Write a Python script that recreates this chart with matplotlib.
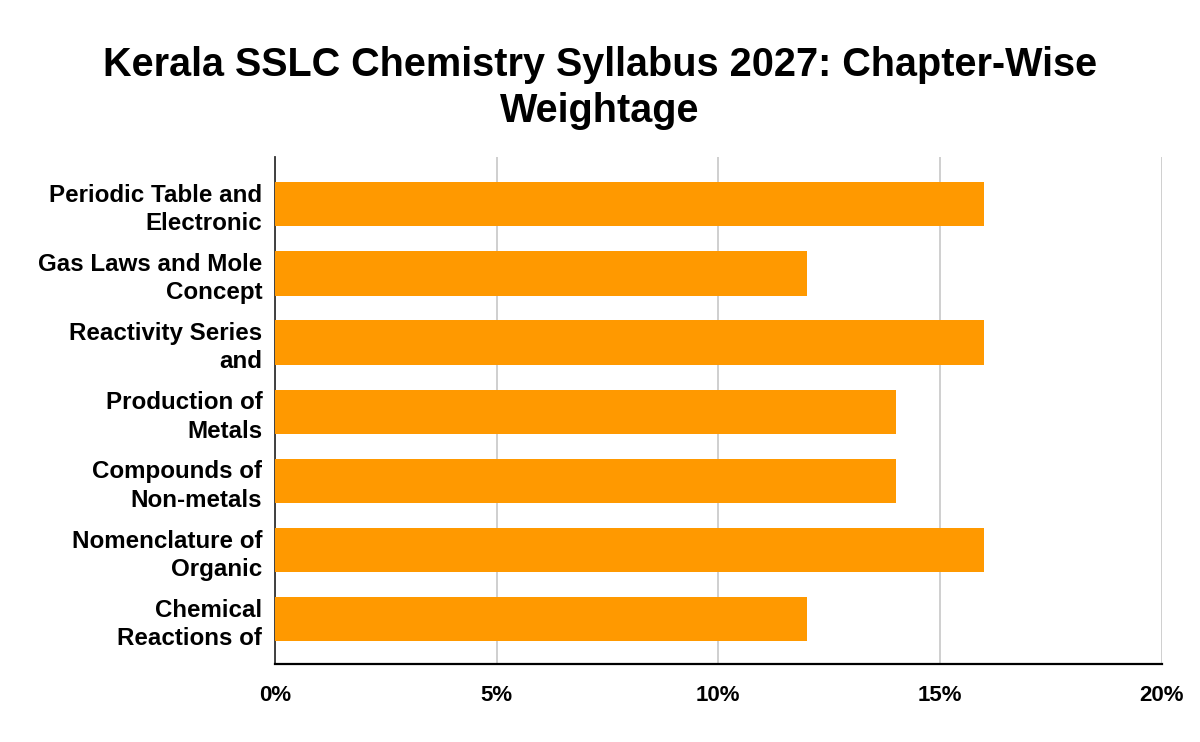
import matplotlib.pyplot as plt
import matplotlib.ticker as mticker

plt.rcParams['font.family'] = ['Liberation Sans', 'DejaVu Sans']

# Chapter names (as truncated in the chart) and weightage in %
chapters = ['Periodic Table and\nElectronic',
            'Gas Laws and Mole\nConcept',
            'Reactivity Series\nand',
            'Production of\nMetals',
            'Compounds of\nNon-metals',
            'Nomenclature of\nOrganic',
            'Chemical\nReactions of']
weightage = [16, 12, 16, 14, 14, 16, 12]
xticks = [0, 5, 10, 15, 20]

fig = plt.figure(figsize=(12, 7.42), dpi=100)
ax = fig.add_axes([0.229, 0.105, 0.739, 0.683])

pos = list(range(len(chapters)))
ax.barh(pos, weightage, height=0.64, color='#ff9900', zorder=3)
ax.set_ylim(len(chapters) - 0.35, -0.68)
ax.set_yticks(pos)
ax.set_yticklabels(chapters, fontsize=17.4, fontweight='bold', linespacing=1.3)

ax.set_xlim(0, 20)
ax.set_xticks(xticks)
ax.xaxis.set_major_formatter(mticker.FuncFormatter(lambda v, p: f'{v:.0f}%'))
for lab in ax.get_xticklabels():
    lab.set_fontsize(16)
    lab.set_fontweight('bold')

ax.tick_params(axis='both', length=0)
ax.tick_params(axis='x', pad=15)
ax.tick_params(axis='y', pad=9)
ax.grid(axis='x', color='#cccccc', linewidth=1.3, zorder=0)

for s in ['top', 'right']:
    ax.spines[s].set_visible(False)
ax.spines['left'].set_color('#333333')
ax.spines['left'].set_linewidth(1.3)
ax.spines['bottom'].set_color('black')
ax.spines['bottom'].set_linewidth(1.6)
ax.spines['bottom'].set_zorder(4)

fig.suptitle('Kerala SSLC Chemistry Syllabus 2027: Chapter-Wise\nWeightage',
             fontsize=28.5, fontweight='bold', y=0.938, linespacing=1.27)

plt.savefig('out.png', dpi=100)
